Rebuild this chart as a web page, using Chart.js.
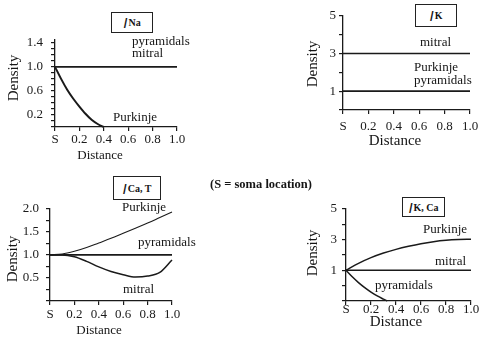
<!DOCTYPE html>
<html>
<head>
<meta charset="utf-8">
<script src="https://cdn.jsdelivr.net/npm/chart.js@4.4.1/dist/chart.umd.min.js"></script>
<style>
  body { margin: 0; background: #fff; width: 481px; height: 339px; position: relative; overflow: hidden;
         font-family: "Liberation Serif", "Times New Roman", serif; color: #151515; }
  canvas { position: absolute; }
  .lbl { position: absolute; font-size: 13px; line-height: 1; white-space: nowrap; }
  .axt { position: absolute; font-size: 13px; line-height: 1; white-space: nowrap; transform: translateX(-50%); }
  .dens { position: absolute; font-size: 15px; line-height: 1; white-space: nowrap;
          transform: translate(-50%, -50%) rotate(-90deg); }
  .ttl { position: absolute; border: 1px solid #222; box-sizing: border-box; background: #fff;
         display: flex; align-items: center; justify-content: center; }
  .ttl i { font-family: "Liberation Sans", Arial, sans-serif; font-size: 15px; margin-right: 1px; }
  .ttl sub { font-size: 10px; font-weight: bold; vertical-align: -4px; }
  .note { position: absolute; font-size: 12.5px; font-weight: bold; white-space: nowrap; line-height: 1; }
</style>
</head>
<body>
<canvas id="na"></canvas>
<canvas id="k"></canvas>
<canvas id="cat"></canvas>
<canvas id="kca"></canvas>

<div class="ttl" style="left:111px;top:12px;width:42px;height:21px"><i>I</i><sub>Na</sub></div>
<div class="ttl" style="left:415px;top:4px;width:42px;height:23px"><i>I</i><sub>K</sub></div>
<div class="ttl" style="left:113px;top:176px;width:48px;height:24px"><i>I</i><sub>Ca, T</sub></div>
<div class="ttl" style="left:402px;top:197px;width:43px;height:20px"><i>I</i><sub>K, Ca</sub></div>

<div class="lbl" style="left:132px;top:34px">pyramidals</div>
<div class="lbl" style="left:132px;top:46px">mitral</div>
<div class="lbl" style="left:113px;top:110px">Purkinje</div>

<div class="lbl" style="left:420px;top:35px">mitral</div>
<div class="lbl" style="left:414px;top:60px">Purkinje</div>
<div class="lbl" style="left:414px;top:73px">pyramidals</div>

<div class="lbl" style="left:122px;top:200px">Purkinje</div>
<div class="lbl" style="left:138px;top:235px">pyramidals</div>
<div class="lbl" style="left:123px;top:282px">mitral</div>

<div class="lbl" style="left:423px;top:222px">Purkinje</div>
<div class="lbl" style="left:435px;top:254px">mitral</div>
<div class="lbl" style="left:375px;top:278px">pyramidals</div>

<div class="axt" style="left:100px;top:148px">Distance</div>
<div class="axt" style="left:395px;top:133px;font-size:15px">Distance</div>
<div class="axt" style="left:99px;top:323px">Distance</div>
<div class="axt" style="left:396px;top:314px;font-size:15px">Distance</div>

<div class="dens" style="left:13px;top:78px">Density</div>
<div class="dens" style="left:312px;top:64px">Density</div>
<div class="dens" style="left:12px;top:259px">Density</div>
<div class="dens" style="left:312px;top:253px">Density</div>

<div class="note" style="left:210px;top:178px">(S = soma location)</div>

<script>
// distance along the dendrite, S = soma
const distTicks = [0, 0.2, 0.4, 0.6, 0.8, 1.0];
const distLabels = ['S', '0.2', '0.4', '0.6', '0.8', '1.0'];

// I_Na
const naFlatDist = [0, 1.0];
const naPyramidals = [1.0, 1.0];
const naMitral = [1.0, 1.0];
const naPurkinjeDist = [0, 0.05, 0.1, 0.15, 0.2, 0.25, 0.3, 0.35, 0.4];
const naPurkinje = [1.0, 0.8, 0.62, 0.47, 0.34, 0.22, 0.12, 0.05, 0.0];
const naTicks = [0, 0.1, 0.2, 0.3, 0.4, 0.5, 0.6, 0.7, 0.8, 0.9, 1.0, 1.1, 1.2, 1.3, 1.4];
const naTickLabels = ['', '', '0.2', '', '', '', '0.6', '', '', '', '1.0', '', '', '', '1.4'];

// I_K
const kFlatDist = [0, 1.0];
const kMitral = [3, 3];
const kPurkinje = [1, 1];
const kPyramidals = [1, 1];
const kTicks = [0, 1, 2, 3, 4, 5];
const kTickLabels = ['', '1', '', '3', '', '5'];

// I_Ca,T
const catDist = [0, 0.1, 0.2, 0.3, 0.4, 0.5, 0.6, 0.7, 0.8, 0.9, 1.0];
const catPurkinje = [1.0, 1.02, 1.08, 1.16, 1.26, 1.36, 1.47, 1.58, 1.69, 1.81, 1.93];
const catPyramidals = [1.0, 1.0, 1.0, 1.0, 1.0, 1.0, 1.0, 1.0, 1.0, 1.0, 1.0];
const catMitral = [1.0, 1.0, 0.96, 0.86, 0.74, 0.64, 0.57, 0.52, 0.54, 0.62, 0.89];
const catTicks = [0, 0.25, 0.5, 0.75, 1.0, 1.25, 1.5, 1.75, 2.0];
const catTickLabels = ['', '', '0.5', '', '1.0', '', '1.5', '', '2.0'];

// I_K,Ca
const kcaDist = [0, 0.1, 0.2, 0.3, 0.4, 0.5, 0.6, 0.7, 0.8, 0.9, 1.0];
const kcaPurkinje = [1.0, 1.45, 1.82, 2.12, 2.36, 2.56, 2.73, 2.86, 2.95, 3.0, 3.02];
const kcaMitral = [1, 1, 1, 1, 1, 1, 1, 1, 1, 1, 1];
const kcaPyrDist = [0, 0.05, 0.1, 0.15, 0.2, 0.25, 0.3, 0.33];
const kcaPyramidals = [1.0, 0.58, 0.2, -0.13, -0.42, -0.67, -0.88, -1.0];
const kcaTicks = [-1, 0, 1, 2, 3, 4, 5];
const kcaTickLabels = ['', '', '1', '', '3', '', '5'];

const ink = '#1a1a1a';
const tickFont = { family: '"Liberation Serif", "Times New Roman", serif', size: 13 };
const padTop = 10, padRight = 14, yAxisW = 40, xAxisH = 24;

function pts(xs, ys) {
    return xs.map((x, i) => ({ x: x, y: ys[i] }));
}

function line(xs, ys, width) {
    return { data: pts(xs, ys), borderColor: ink, borderWidth: width || 1.5, pointRadius: 0,
             cubicInterpolationMode: 'monotone', clip: false };
}

// p: chart area box in page pixels, plus axis settings
function makeChart(id, p, datasets) {
    const cv = document.getElementById(id);
    cv.width = yAxisW + (p.R - p.L) + padRight;
    cv.height = padTop + (p.B - p.T) + xAxisH;
    cv.style.left = (p.L - yAxisW) + 'px';
    cv.style.top = (p.T - padTop) + 'px';
    return new Chart(cv, {
        type: 'line',
        data: { datasets: datasets },
        options: {
            responsive: false,
            animation: false,
            events: [],
            layout: { autoPadding: false, padding: { left: 0, top: padTop, right: padRight, bottom: 0 } },
            plugins: { legend: { display: false }, tooltip: { enabled: false } },
            scales: {
                x: {
                    type: 'linear', min: 0, max: 1,
                    afterBuildTicks: s => { s.ticks = distTicks.map(v => ({ value: v })) },
                    afterFit: s => { s.height = xAxisH },
                    ticks: { callback: (v, i) => distLabels[i], font: tickFont, color: ink,
                             padding: p.xPad, maxRotation: 0, autoSkip: false },
                    grid: { drawOnChartArea: false, tickLength: 4, color: ink, lineWidth: 1.2 },
                    border: { color: ink, width: 1.3 }
                },
                y: {
                    type: 'linear', min: p.yMin, max: p.yMax,
                    afterBuildTicks: s => { s.ticks = p.ticks.map(v => ({ value: v })) },
                    afterFit: s => { s.width = yAxisW },
                    ticks: { callback: (v, i) => p.labels[i], font: tickFont, color: ink,
                             padding: p.yPad, autoSkip: false },
                    grid: { drawOnChartArea: false, tickLength: 4, color: ink, lineWidth: 1.2 },
                    border: { color: ink, width: 1.3 }
                }
            }
        }
    });
}

makeChart('na', { L: 55, R: 177, T: 34, B: 127, yMin: 0, yMax: 1.45, ticks: naTicks, labels: naTickLabels, xPad: 1, yPad: 8 }, [
    line(naFlatDist, naPyramidals),
    line(naFlatDist, naMitral),
    line(naPurkinjeDist, naPurkinje, 2)
]);

makeChart('k', { L: 343, R: 470, T: 15, B: 110, yMin: 0, yMax: 5, ticks: kTicks, labels: kTickLabels, xPad: 5, yPad: 3 }, [
    line(kFlatDist, kMitral),
    line(kFlatDist, kPurkinje),
    line(kFlatDist, kPyramidals)
]);

makeChart('cat', { L: 50, R: 172, T: 204, B: 301, yMin: 0, yMax: 2, ticks: catTicks, labels: catTickLabels, xPad: 2, yPad: 7 }, [
    line(catDist, catPurkinje, 1.1),
    line(catDist, catPyramidals, 1.8),
    line(catDist, catMitral, 1.5)
]);

makeChart('kca', { L: 346, R: 471, T: 206, B: 301, yMin: -1, yMax: 5, ticks: kcaTicks, labels: kcaTickLabels, xPad: -3, yPad: 5 }, [
    line(kcaDist, kcaPurkinje),
    line(kcaDist, kcaMitral),
    line(kcaPyrDist, kcaPyramidals)
]);
</script>
</body>
</html>
